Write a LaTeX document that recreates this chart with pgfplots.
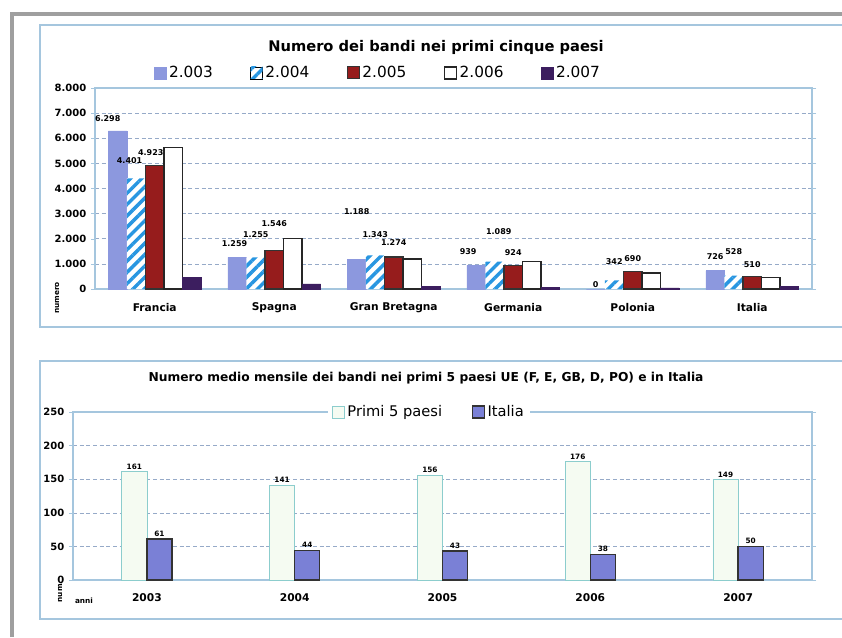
\documentclass[border=0pt]{standalone}
\usepackage{fontspec}
\setmainfont{DejaVu Sans}
\usepackage{pgfplots}
\usepackage{pgfplotstable}
\pgfplotsset{compat=1.18}
\usetikzlibrary{patterns.meta}
\definecolor{c03}{RGB}{140,152,222}
\definecolor{c04}{RGB}{40,150,225}
\definecolor{c05}{RGB}{150,28,28}
\definecolor{c07}{RGB}{60,30,95}
\definecolor{panel}{RGB}{165,198,222}
\definecolor{gridc}{RGB}{150,170,200}
\definecolor{primi}{RGB}{245,251,242}
\definecolor{primib}{RGB}{140,205,205}
\definecolor{ita}{RGB}{122,128,214}
\pgfplotsset{sq/.style={legend image code/.code={\draw[##1] (0pt,-4.5pt) rectangle (9pt,4.5pt);}},
  lab/.style={nodes near coords,
    visualization depends on={\thisrow{dx}\as\dx},
    visualization depends on={\thisrow{dy}\as\dy},
    every node near coord/.append style={xshift=\dx pt, yshift=\dy pt}}}
% x = category, y = value, dx/dy = label offsets (pt)
\pgfplotstableread{
x y dx dy
0 6298 -7.5 6
1 1259 -2 7
2 1188 0 32
3 939 -6 7
4 0 0 0
5 726 0 7
}\tA
\pgfplotstableread{
x y dx dy
0 4401 -5 10
1 1255 0 14
2 1343 0 12
3 1089 3 19
4 342 0 11
5 528 0 15
}\tB
\pgfplotstableread{
x y dx dy
0 4923 -3 6
1 1546 0 16
2 1274 0 7
3 924 0 6
4 690 0 6
5 510 0 5
}\tC
\begin{document}
\begin{tikzpicture}[x=0.75pt,y=0.75pt]
\path[use as bounding box] (0,0) rectangle (842,637);
\fill[white] (0,0) rectangle (842,637);
\draw[gray!75, line width=3pt] (12,0) -- (12,623) -- (842,623);
% panels
\draw[panel, line width=0.8pt] (842,612) -- (40,612) -- (40,310) -- (842,310);
\draw[panel, line width=0.8pt] (842,276) -- (40,276) -- (40,18) -- (842,18);
% titles
\node[font=\fontsize{11}{13}\selectfont\bfseries] at (436,590) {Numero dei bandi nei primi cinque paesi};
\node[font=\fontsize{9.2}{11}\selectfont\bfseries] at (426,259) {Numero medio mensile dei bandi nei primi 5 paesi UE (F, E, GB, D, PO) e in Italia};
\node[font=\fontsize{5.5}{6}\selectfont\bfseries, rotate=90] at (57,339) {numero};
\node[font=\fontsize{5.5}{6}\selectfont\bfseries, rotate=90] at (60,45) {num.};
\node[font=\fontsize{5.5}{6}\selectfont\bfseries] at (84,36) {anni};

\begin{axis}[at={(71.25pt,261pt)}, anchor=south west, scale only axis,
  width=537.75pt, height=150.75pt,
  ybar=0pt, bar width=0.155,
  ymin=0, ymax=8000, ytick={0,1000,...,8000},
  xmin=-0.5, xmax=5.5, xtick={0,...,5},
  xticklabels={Francia,Spagna,Gran Bretagna,Germania,Polonia,Italia},
  x tick style={draw=none},
  y tick style={panel}, tick align=outside, major tick length=3pt,
  axis line style={panel, line width=0.8pt},
  ymajorgrids, grid style={gridc, dash pattern=on 3pt off 2pt},
  scaled y ticks=false,
  /pgf/number format/1000 sep={.},
  /pgf/number format/assume math mode=true,
  yticklabel style={font=\fontsize{7.5}{8}\selectfont\bfseries},
  xticklabel style={font=\fontsize{8}{9}\selectfont\bfseries, yshift=-4pt},
  legend style={at={(0.395,1.075)}, anchor=center, legend columns=5, draw=none, fill=none,
    font=\fontsize{11.5}{13}\selectfont, /tikz/every even column/.append style={column sep=26pt}},
  every node near coord/.append style={font=\fontsize{6}{7}\selectfont\bfseries, inner sep=1pt, text=black},
]
\addplot[fill=c03, draw=c03, sq, lab] table[x=x,y=y] {\tA};
\addplot[fill=white, draw=none, postaction={pattern={Lines[angle=45,distance=6pt,line width=2.6pt]}, pattern color=c04}, sq, lab] table[x=x,y=y] {\tB};
\addplot[fill=c05, draw=black!80, line width=0.8pt, sq, lab] table[x=x,y=y] {\tC};
\addplot[fill=white, draw=black!85, line width=1pt, sq] coordinates {(0,5620) (1,2020) (2,1190) (3,1100) (4,640) (5,456)};
\addplot[fill=c07, draw=c07, sq] coordinates {(0,450) (1,200) (2,100) (3,60) (4,40) (5,90)};
\legend{2.003,2.004,2.005,2.006,2.007}
\end{axis}

\begin{axis}[at={(54.75pt,42.75pt)}, anchor=south west, scale only axis,
  width=554.25pt, height=126pt,
  ybar=0pt, bar width=0.17,
  ymin=0, ymax=250, ytick={0,50,...,250},
  xmin=-0.5, xmax=4.5, xtick={0,...,4},
  xticklabels={2003,2004,2005,2006,2007},
  x tick style={draw=none},
  y tick style={panel}, tick align=outside, major tick length=3pt,
  axis line style={panel, line width=0.8pt},
  ymajorgrids, grid style={gridc, dash pattern=on 3pt off 2pt},
  /pgf/number format/assume math mode=true,
  yticklabel style={font=\fontsize{7.5}{8}\selectfont\bfseries},
  xticklabel style={font=\fontsize{8}{9}\selectfont\bfseries, yshift=-4pt},
  legend style={at={(0.482,1)}, anchor=center, legend columns=2, draw=none, fill=white,
    font=\fontsize{11}{13}\selectfont, /tikz/every even column/.append style={column sep=20pt}},
  every node near coord/.append style={font=\fontsize{5.5}{6}\selectfont\bfseries, inner sep=1.5pt, text=black},
  nodes near coords,
]
\addplot[fill=primi, draw=primib, line width=0.6pt, sq] coordinates {(0,161) (1,141) (2,156) (3,176) (4,149)};
\addplot[fill=ita, draw=black!80, line width=1pt, sq] coordinates {(0,61) (1,44) (2,43) (3,38) (4,50)};
\legend{Primi 5 paesi,Italia}
\end{axis}
\end{tikzpicture}
\end{document}
